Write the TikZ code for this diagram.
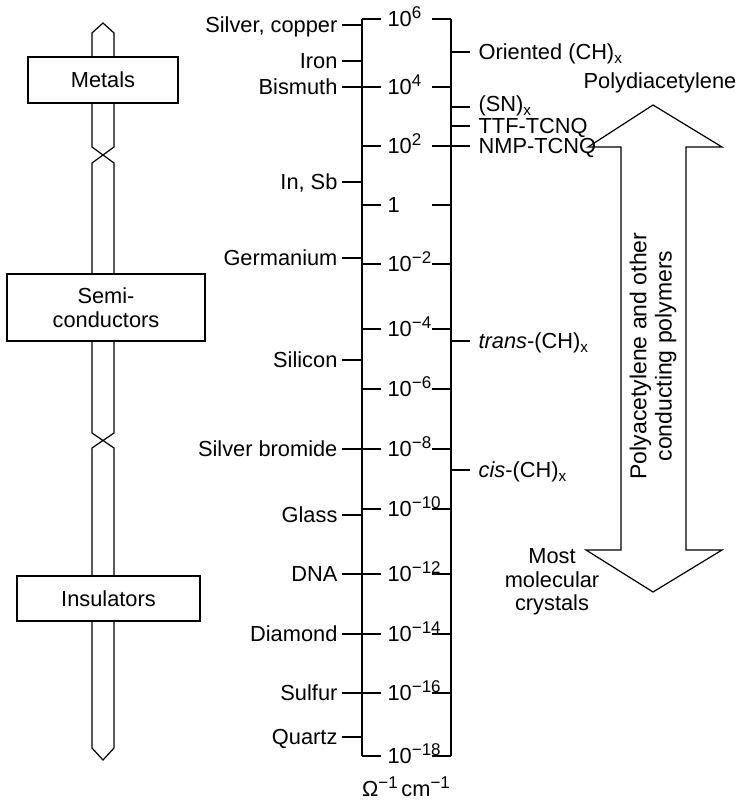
\documentclass[tikz,border=0pt]{standalone}
\usepackage{fontspec}
\setmainfont{Liberation Sans}
\usetikzlibrary{positioning}
\newcommand{\pw}[1]{\raisebox{4pt}{\fontsize{8.5}{8.5}\selectfont#1}}

\begin{document}
\begin{tikzpicture}[
  x=0.5pt, y=-0.5pt, line width=0.6pt,
  font=\fontsize{10.9}{11.8}\selectfont,
  lbl/.style={inner sep=0pt, text height=7.8pt, text depth=0pt},
  mat/.style={lbl, anchor=east},
  val/.style={lbl, anchor=west},
  poly/.style={lbl, anchor=west},
  band/.style={draw, fill=white, inner sep=0pt, align=center}
]
\useasboundingbox (0,0) rectangle (741,801);

% left bar with the two breaks
\draw (103,23) -- (114,33) -- (114,147) -- (92,163) -- (92,433) -- (114,448)
      -- (114,748) -- (103,760) -- (92,748) -- (92,448) -- (114,433)
      -- (114,163) -- (92,147) -- (92,33) -- cycle;
\node[band, minimum width=75pt, minimum height=23pt] (metals) at (103,80) {Metals};
\node[band, minimum width=99pt, minimum height=33.5pt] (semi) at (106,307.5) {Semi-\\conductors};
\node[band, minimum width=91.5pt, minimum height=22.5pt] (insul) at (108.5,598.5) {Insulators};

% conductivity scale
\coordinate (sl) at (362,19);
\coordinate (slb) at (362,756);
\coordinate (sr) at (451,19);
\coordinate (srb) at (451,756);
\draw (sl) -- (slb);
\draw (sr) -- (srb);

\node[val] (v6) at (387,19) {10\pw{6}};
\node[val] (v4) at (387,87) {10\pw{4}};
\node[val] (v2) at (387,146) {10\pw{2}};
\node[val] (v0) at (387,205) {1};
\node[val] (vm2) at (387,264) {10\pw{−2}};
\node[val] (vm4) at (387,329) {10\pw{−4}};
\node[val] (vm6) at (387,389) {10\pw{−6}};
\node[val] (vm8) at (387,449) {10\pw{−8}};
\node[val] (vm10) at (387,509) {10\pw{−10}};
\node[val] (vm12) at (387,574) {10\pw{−12}};
\node[val] (vm14) at (387,634) {10\pw{−14}};
\node[val] (vm16) at (387,693) {10\pw{−16}};
\node[val] (vm18) at (387,756) {10\pw{−18}};

\draw (v6.west -| sl) -- ([xshift=-3pt]v6.west) (v6.west -| sr) -- ++(-19,0);
\draw (v4.west -| sl) -- ([xshift=-3pt]v4.west) (v4.west -| sr) -- ++(-19,0);
\draw (v2.west -| sl) -- ([xshift=-3pt]v2.west) (v2.west -| sr) -- ++(-19,0);
\draw (v0.west -| sl) -- ([xshift=-3pt]v0.west) (v0.west -| sr) -- ++(-19,0);
\draw (vm2.west -| sl) -- ([xshift=-3pt]vm2.west) (vm2.west -| sr) -- ++(-19,0);
\draw (vm4.west -| sl) -- ([xshift=-3pt]vm4.west) (vm4.west -| sr) -- ++(-19,0);
\draw (vm6.west -| sl) -- ([xshift=-3pt]vm6.west) (vm6.west -| sr) -- ++(-19,0);
\draw (vm8.west -| sl) -- ([xshift=-3pt]vm8.west) (vm8.west -| sr) -- ++(-19,0);
\draw (vm10.west -| sl) -- ([xshift=-3pt]vm10.west) (vm10.west -| sr) -- ++(-19,0);
\draw (vm12.west -| sl) -- ([xshift=-3pt]vm12.west) (vm12.west -| sr) -- ++(-19,0);
\draw (vm14.west -| sl) -- ([xshift=-3pt]vm14.west) (vm14.west -| sr) -- ++(-19,0);
\draw (vm16.west -| sl) -- ([xshift=-3pt]vm16.west) (vm16.west -| sr) -- ++(-19,0);
\draw (vm18.west -| sl) -- ([xshift=-3pt]vm18.west) (vm18.west -| sr) -- ++(-19,0);

\node (unit) at (406,787) {Ω\pw{−1}\,cm\pw{−1}};

% materials on the left
\node[mat] (ag) at (338,25) {Silver, copper};
\node[mat] (fe) at (338,61) {Iron};
\node[mat] (bi) at (338,87) {Bismuth};
\node[mat] (insb) at (338,182) {In, Sb};
\node[mat] (ge) at (338,258) {Germanium};
\node[mat] (si) at (338,360) {Silicon};
\node[mat] (agbr) at (338,449) {Silver bromide};
\node[mat] (glass) at (338,515) {Glass};
\node[mat] (dna) at (338,574) {DNA};
\node[mat] (dia) at (338,634) {Diamond};
\node[mat] (sulf) at (338,693) {Sulfur};
\node[mat] (qtz) at (338,737) {Quartz};

\draw ([xshift=2pt]ag.east) -- (ag.east -| sl);
\draw ([xshift=2pt]fe.east) -- (fe.east -| sl);
\draw ([xshift=2pt]bi.east) -- (bi.east -| sl);
\draw ([xshift=2pt]insb.east) -- (insb.east -| sl);
\draw ([xshift=2pt]ge.east) -- (ge.east -| sl);
\draw ([xshift=2pt]si.east) -- (si.east -| sl);
\draw ([xshift=2pt]agbr.east) -- (agbr.east -| sl);
\draw ([xshift=2pt]glass.east) -- (glass.east -| sl);
\draw ([xshift=2pt]dna.east) -- (dna.east -| sl);
\draw ([xshift=2pt]dia.east) -- (dia.east -| sl);
\draw ([xshift=2pt]sulf.east) -- (sulf.east -| sl);
\draw ([xshift=2pt]qtz.east) -- (qtz.east -| sl);

% polymers on the right
\node[poly] (och) at (478,52) {Oriented (CH)\textsubscript{x}};
\node[poly] (sn) at (478,104) {(SN)\textsubscript{x}};
\node[poly] (ttf) at (478,126) {TTF-TCNQ};
\node[poly] (nmp) at (478,146) {NMP-TCNQ};
\node[poly] (trans) at (478,341) {\textit{trans}-(CH)\textsubscript{x}};
\node[poly] (cis) at (478,470) {\textit{cis}-(CH)\textsubscript{x}};

\draw (och.west -| sr) -- ([xshift=-4pt]och.west);
\draw ([yshift=-1.5pt]sn.west -| sr) -- ([xshift=-4pt,yshift=-1.5pt]sn.west);
\draw (ttf.west -| sr) -- ([xshift=-4pt]ttf.west);
\draw (nmp.west -| sr) -- ([xshift=-4pt]nmp.west);
\draw (trans.west -| sr) -- ([xshift=-4pt]trans.west);
\draw (cis.west -| sr) -- ([xshift=-4pt]cis.west);

% range of the conducting polymers
\draw (653,105) -- (722,147) -- (686,147) -- (686,550) -- (722,550) -- (653,592)
      -- (586,550) -- (621,550) -- (621,147) -- (588,147) -- cycle;
\node[inner sep=0pt] (pda) at (660,83) {Polydiacetylene};
\node[rotate=90, align=center, inner sep=0pt, font=\fontsize{11.5}{12.6}\selectfont] (pac) at (653,356) {Polyacetylene and other\\conducting polymers};
\node[align=center, inner sep=0pt] (mmc) at (552,582) {Most\\molecular\\crystals};
\end{tikzpicture}
\end{document}
